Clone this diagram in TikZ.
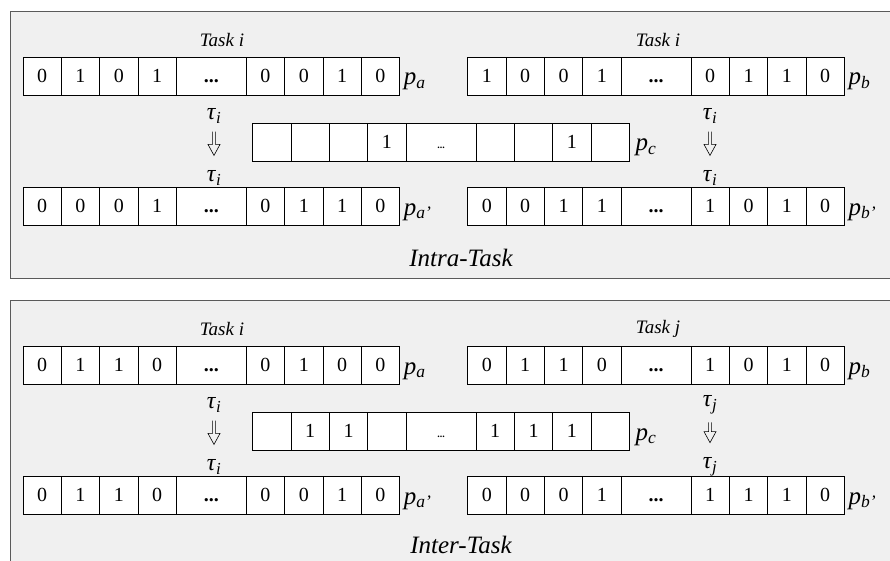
\documentclass[tikz,border=0pt]{standalone}
\usepackage{fontspec}
\setmainfont{Liberation Serif}
\usetikzlibrary{arrows.meta,positioning}

\definecolor{panelgray}{HTML}{F0F0F0}
\definecolor{framegray}{HTML}{5A5A5A}

\newcommand{\pvar}[1]{\textit{p}\textsubscript{\textit{#1}}}
\newcommand{\tauvar}[1]{\textit{τ}\textsubscript{\textit{#1}}}
\newcommand{\bdots}{\textbf{...}}
\newcommand{\cdotsmall}{{\fontsize{10}{10}\selectfont\textbf{...}}}

% one gene row: #1 name prefix, #2 left x, #3 top y, #4 the nine cells
\newcommand{\bitrow}[4]{%
  \foreach \bit [count=\k] in {#4} {
    \pgfmathsetmacro\cellw{\k==5 ? 70 : 38.33}
    \pgfmathsetmacro\cellx{#2 + (\k<5 ? (\k-0.5)*38.33 : (\k==5 ? 188.33 : 223.33+(\k-5.5)*38.33))}
    \node[cell, minimum width=\cellw pt] (#1\k) at (\cellx, #3+19) {\bit};
  }
}

\begin{document}
\begin{tikzpicture}[x=1pt, y=-1pt,
  panel/.style={draw=framegray, fill=panelgray, line width=0.8pt},
  cell/.style={draw=black, fill=white, minimum height=38pt, inner sep=0pt,
    outer sep=0pt, text height=13.5pt, text depth=1pt, line width=0.6pt,
    font=\fontsize{20}{22}\selectfont},
  tasklbl/.style={font=\fontsize{19}{21}\selectfont\itshape, inner sep=1pt},
  plbl/.style={font=\fontsize{25}{27}\selectfont, inner sep=0pt},
  taulbl/.style={font=\fontsize{24}{26}\selectfont, inner sep=0pt},
  titlelbl/.style={font=\fontsize{25}{27}\selectfont\itshape, inner sep=0pt},
  % hollow double arrow: shaft + open head, from one tau to the next
  xover/.style={line width=0.6pt, line join=miter, to path={
    ([xshift=-1.4pt,yshift=-8pt]\tikztostart.south)
    -- ([xshift=-1.4pt,yshift=26pt]\tikztotarget.north)
    -- ([xshift=-6pt,yshift=26pt]\tikztotarget.north)
    -- ([yshift=15pt]\tikztotarget.north)
    -- ([xshift=6pt,yshift=26pt]\tikztotarget.north)
    -- ([xshift=1.4pt,yshift=26pt]\tikztotarget.north)
    -- ([xshift=1.4pt,yshift=-8pt]\tikztostart.south)}}]
  \useasboundingbox (0,0) rectangle (890,561);
  \clip (0,0) rectangle (890,561);
  % panels run past the right and bottom edge
  \draw[panel] (10,11) rectangle (900,278);
  \draw[panel] (10,300) rectangle (900,580);

  % ---- intra-task crossover
  \node[tasklbl] (intraTaskA) at (222,40) {Task i};
  \node[tasklbl] (intraTaskB) at (658,40) {Task i};
  \bitrow{intraA}{23}{57}{0,1,0,1,\bdots,0,0,1,0}
  \bitrow{intraB}{467.7}{57}{1,0,0,1,\bdots,0,1,1,0}
  \bitrow{intraC}{252.7}{123}{{},{},{},1,\cdotsmall,{},{},1,{}}
  \bitrow{intraD}{23}{187}{0,0,0,1,\bdots,0,1,1,0}
  \bitrow{intraE}{467.7}{187}{0,0,1,1,\bdots,1,0,1,0}
  \node[plbl, anchor=base west] (intraPa) at ([xshift=4pt,yshift=-9pt]intraA9.east) {\pvar{a}};
  \node[plbl, anchor=base west] (intraPb) at ([xshift=4pt,yshift=-9pt]intraB9.east) {\pvar{b}};
  \node[plbl, anchor=base west] (intraPc) at ([xshift=6pt,yshift=-9pt]intraC9.east) {\pvar{c}};
  \node[plbl, anchor=base west] (intraPd) at ([xshift=4pt,yshift=-9pt]intraD9.east) {\pvar{a'}};
  \node[plbl, anchor=base west] (intraPe) at ([xshift=4pt,yshift=-9pt]intraE9.east) {\pvar{b'}};
  \node[taulbl] (intraTauA) at (214,116) {\tauvar{i}};
  \node[taulbl] (intraTauD) at (214,178) {\tauvar{i}};
  \node[taulbl] (intraTauB) at (710,116) {\tauvar{i}};
  \node[taulbl] (intraTauE) at (710,178) {\tauvar{i}};
  \draw[xover] (intraTauA) to (intraTauD);
  \draw[xover] (intraTauB) to (intraTauE);
  \node[titlelbl] (intraTitle) at (461,258) {Intra-Task};

  % ---- inter-task crossover, same layout 289pt lower
  \begin{scope}[shift={(0,289)}]
    \node[tasklbl] (interTaskA) at (222,40) {Task i};
    \node[tasklbl] (interTaskB) at (658,40) {Task j};
    \bitrow{interA}{23}{57}{0,1,1,0,\bdots,0,1,0,0}
    \bitrow{interB}{467.7}{57}{0,1,1,0,\bdots,1,0,1,0}
    \bitrow{interC}{252.7}{123}{{},1,1,{},\cdotsmall,1,1,1,{}}
    \bitrow{interD}{23}{187}{0,1,1,0,\bdots,0,0,1,0}
    \bitrow{interE}{467.7}{187}{0,0,0,1,\bdots,1,1,1,0}
    \node[plbl, anchor=base west] (interPa) at ([xshift=4pt,yshift=-9pt]interA9.east) {\pvar{a}};
    \node[plbl, anchor=base west] (interPb) at ([xshift=4pt,yshift=-9pt]interB9.east) {\pvar{b}};
    \node[plbl, anchor=base west] (interPc) at ([xshift=6pt,yshift=-9pt]interC9.east) {\pvar{c}};
    \node[plbl, anchor=base west] (interPd) at ([xshift=4pt,yshift=-9pt]interD9.east) {\pvar{a'}};
    \node[plbl, anchor=base west] (interPe) at ([xshift=4pt,yshift=-9pt]interE9.east) {\pvar{b'}};
    \node[taulbl] (interTauA) at (214,116) {\tauvar{i}};
    \node[taulbl] (interTauD) at (214,178) {\tauvar{i}};
    \node[taulbl] (interTauB) at (710,116) {\tauvar{j}};
    \node[taulbl] (interTauE) at (710,178) {\tauvar{j}};
    \draw[xover] (interTauA) to (interTauD);
    \draw[xover] (interTauB) to (interTauE);
    \node[titlelbl] (interTitle) at (461,256) {Inter-Task};
  \end{scope}
\end{tikzpicture}
\end{document}
